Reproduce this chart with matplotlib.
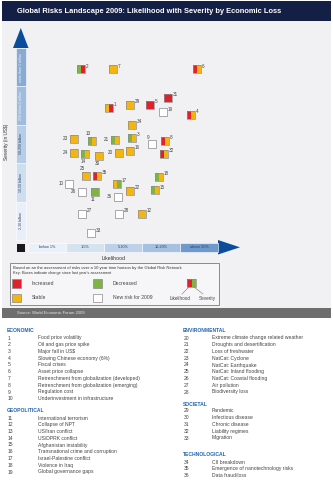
import matplotlib.pyplot as plt
from matplotlib.patches import Rectangle, Polygon

plt.rcParams['font.family'] = ['Liberation Sans', 'DejaVu Sans']

# risk positions: likelihood band units (0-5) and severity band units (0-5)
risk_ids = list(range(1, 37))
likelihood = [2.13, 1.39, 2.74, 4.29, 3.21, 4.45, 2.24, 3.61, 3.26, 1.08,
              1.76, 3.00, 1.68, 1.50, 3.34, 2.68, 2.34, 3.45, 3.55, 2.39,
              2.29, 2.68, 1.21, 1.21, 1.53, 1.42, 1.42, 2.39, 2.68, 1.87,
              3.68, 3.58, 1.66, 2.74, 1.82, 2.37]
severity = [3.44, 4.45, 2.66, 3.26, 3.52, 4.45, 4.45, 2.58, 2.50, 1.46,
            1.25, 0.68, 2.58, 2.24, 1.30, 2.32, 1.46, 1.64, 3.33, 2.27,
            2.60, 1.28, 2.63, 2.27, 1.67, 1.25, 0.68, 0.68, 3.52, 2.19,
            3.70, 2.24, 0.18, 3.00, 1.67, 1.12]
# change since last year: I increased, D decreased, S stable, N new
chg_likelihood = ['S', 'D', 'D', 'I', 'I', 'I', 'S', 'I', 'N', 'N',
                  'D', 'S', 'D', 'D', 'D', 'S', 'S', 'D', 'N', 'S',
                  'D', 'S', 'S', 'S', 'S', 'N', 'N', 'N', 'S', 'S',
                  'I', 'I', 'N', 'S', 'I', 'N']
chg_severity = ['I', 'I', 'S', 'S', 'I', 'S', 'S', 'S', 'N', 'N',
                'D', 'S', 'S', 'S', 'S', 'S', 'D', 'S', 'N', 'S',
                'S', 'S', 'S', 'S', 'S', 'N', 'N', 'N', 'S', 'S',
                'I', 'S', 'N', 'S', 'S', 'N']

likelihood_bands = ['below 1%', '1-5%', '5-10%', '10-20%', 'above 20%']
severity_bands = ['2-10 billion', '10-50 billion', '50-250 billion',
                  '250 billion-1 trillion', 'more than 1 trillion']

economic = ["Food price volatility", "Oil and gas price spike", "Major fall in US$",
            "Slowing Chinese economy (6%)", "Fiscal crises", "Asset price collapse",
            "Retrenchment from globalization (developed)",
            "Retrenchment from globalization (emerging)", "Regulation cost",
            "Underinvestment in infrastructure"]
geopolitical = ["International terrorism", "Collapse of NPT", "US/Iran conflict",
                "US/DPRK conflict", "Afghanistan instability",
                "Transnational crime and corruption", "Israel-Palestine conflict",
                "Violence in Iraq", "Global governance gaps"]
environmental = ["Extreme climate change related weather", "Droughts and desertification",
                 "Loss of freshwater", "NatCat: Cyclone", "NatCat: Earthquake",
                 "NatCat: Inland flooding", "NatCat: Coastal flooding", "Air pollution",
                 "Biodiversity loss"]
societal = ["Pandemic", "Infectious disease", "Chronic disease", "Liability regimes",
            "Migration"]
technological = ["CII breakdown", "Emergence of nanotechnology risks", "Data fraud/loss"]

colors = {'I': '#e2202b', 'D': '#80b442', 'S': '#f5b50f', 'N': '#ffffff'}
label_side = {9: 'ul', 13: 'ul', 25: 'ul', 10: 'l', 20: 'l', 21: 'l', 23: 'l',
              24: 'l', 26: 'l', 36: 'l', 11: 'b', 14: 'b', 30: 'b'}
navy = '#0c4d9b'
txt = '#444444'

fig = plt.figure(figsize=(3.33, 4.8), dpi=100)

# background / decoration layer in pixel coordinates
bg = fig.add_axes([0, 0, 1, 1])
bg.set_xlim(0, 333)
bg.set_ylim(480, 0)
bg.axis('off')

bg.add_patch(Rectangle((2, 21), 329, 287, fc='#f1f1f4', ec='none'))
bg.add_patch(Rectangle((2, 1), 329, 20, fc='#141f45', ec='none'))
bg.text(17, 11.5, 'Global Risks Landscape 2009: Likelihood with Severity by Economic Loss',
        color='white', fontsize=5.4, fontweight='bold', va='center')
bg.add_patch(Rectangle((2, 308), 329, 10, fc='#6e6e6e', ec='none'))
bg.text(17, 313, 'Source: World Economic Forum 2009', color='#e6e6e6', fontsize=3.0,
        va='center')

# axis arrowheads and corner square
bg.add_patch(Polygon([(13, 48), (28.5, 48), (20.8, 28)], fc=navy, ec='none'))
bg.add_patch(Polygon([(218, 240), (218, 254.5), (240, 247.3)], fc=navy, ec='none'))
bg.add_patch(Rectangle((17, 244), 7.5, 7.5, fc='#1a1a1a', ec='none'))
bg.text(7, 142, 'Severity (in US$)', rotation=90, fontsize=3.4, color='#333333',
        ha='center', va='center')
bg.text(114, 258, 'Likelihood', fontsize=3.8, color='#333333', ha='center', va='center')

# legend box
bg.add_patch(Rectangle((10, 263), 209, 42, fc='#f6f6f8', ec='#7a7a7a', lw=0.6))
bg.text(13, 267.5, 'Based on an the assessment of risks over a 10 year time horizon '
        'by the Global Risk Network', fontsize=2.95, color='#333333', va='center')
bg.text(13, 273, "Key: Boxes indicate change since last year's assessment",
        fontsize=2.75, color='#333333', va='center')
for (bx, by, code, name) in [(12, 279, 'I', 'Increased'), (93, 279, 'D', 'Decreased'),
                             (12, 293.5, 'S', 'Stable'), (93, 293.5, 'N', 'New risk for 2009')]:
    bg.add_patch(Rectangle((bx, by), 9, 8.5, fc=colors[code], ec='#8a8a8a', lw=0.5))
    bg.text(bx + 20, by + 4.3, name, fontsize=3.6, color=txt, va='center')
bg.add_patch(Rectangle((187, 278.5), 4.5, 8.5, fc=colors['I'], ec='none'))
bg.add_patch(Rectangle((191.5, 278.5), 4.5, 8.5, fc=colors['D'], ec='none'))
bg.add_patch(Rectangle((187, 278.5), 9, 8.5, fc='none', ec='#8a8a8a', lw=0.5))
bg.plot([189, 182], [287, 294], color='#777777', lw=0.4)
bg.plot([194, 203], [287, 294], color='#777777', lw=0.4)
bg.text(180, 298.5, 'Likelihood', fontsize=3.3, color=txt, ha='center', va='center')
bg.text(207, 298.5, 'Severity', fontsize=3.3, color=txt, ha='center', va='center')


def draw_group(x_num, x_txt, y_head, title, start, items, y_first=None):
    bg.text(x_num - 1, y_head, title, fontsize=3.6, fontweight='bold', color='#2062ab',
            va='center')
    y0 = y_head + 7 if y_first is None else y_first
    for k, item in enumerate(items):
        y = y0 + 6.75 * k
        bg.text(x_num, y, str(start + k), fontsize=3.6, color=txt, va='center')
        bg.text(x_txt, y, item, fontsize=3.6, color=txt, va='center')


draw_group(8, 38, 331, 'ECONOMIC', 1, economic)
draw_group(8, 38, 411, 'GEOPOLITICAL', 11, geopolitical)
draw_group(184, 212, 331, 'ENVIRONMENTAL', 20, environmental)
draw_group(184, 212, 404, 'SOCIETAL', 29, societal)
draw_group(184, 212, 455, 'TECHNOLOGICAL', 34, technological)

# data axes: band units on both scales
ax = fig.add_axes([28 / 333, 1 - 240 / 480, 190 / 333, 192 / 480])
ax.set_xlim(0, 5)
ax.set_ylim(0, 5)
ax.axis('off')
ax.patch.set_alpha(0)

x_cols = ['#eaf0f8', '#d5e2f0', '#bed1e8', '#a5c0e0', '#7099cb']
for i, lab in enumerate(likelihood_bands):
    ax.add_patch(Rectangle((i, -0.3125), 1, 0.2345, fc=x_cols[i], ec='white', lw=0.4,
                           clip_on=False))
    ax.text(i + 0.5, -0.195, lab, fontsize=2.7, color='#2d3f66', ha='center',
            va='center', clip_on=False)

y_cols = ['#e8eff8', '#cfdeef', '#b7cde6', '#a0bcdd', '#89abd3']
for i, lab in enumerate(severity_bands):
    ax.add_patch(Rectangle((-0.316, i), 0.263, 1, fc=y_cols[i], ec='white', lw=0.4,
                           clip_on=False))
    ax.text(-0.1845, i + 0.5, lab, fontsize=2.5, rotation=90,
            color='#f2f5fa' if i >= 3 else '#2d3f66', ha='center', va='center',
            clip_on=False)

bw, bh = 0.21, 0.21
for rid, x, y, cl, cs in zip(risk_ids, likelihood, severity, chg_likelihood, chg_severity):
    if cl == 'N':
        ax.add_patch(Rectangle((x - bw / 2, y - bh / 2), bw, bh, fc='white',
                               ec='#9a9a9a', lw=0.6, zorder=3))
    else:
        ax.add_patch(Rectangle((x - bw / 2, y - bh / 2), bw / 2, bh, fc=colors[cl],
                               ec='none', zorder=3))
        ax.add_patch(Rectangle((x, y - bh / 2), bw / 2, bh, fc=colors[cs],
                               ec='none', zorder=3))
        ax.add_patch(Rectangle((x - bw / 2, y - bh / 2), bw, bh, fc='none',
                               ec='#8c8c8c', lw=0.5, zorder=4))
    side = label_side.get(rid, 'ur')
    if side == 'ur':
        off, ha = (3.6, 2.2), 'left'
    elif side == 'l':
        off, ha = (-4.2, 0.4), 'right'
    elif side == 'ul':
        off, ha = (-2.5, 5.0), 'center'
    else:
        off, ha = (-1.0, -5.2), 'center'
    ax.annotate(str(rid), (x, y), xytext=off, textcoords='offset points',
                fontsize=3.3, color=txt, ha=ha, va='center')

fig.savefig('out.png', dpi=100)
